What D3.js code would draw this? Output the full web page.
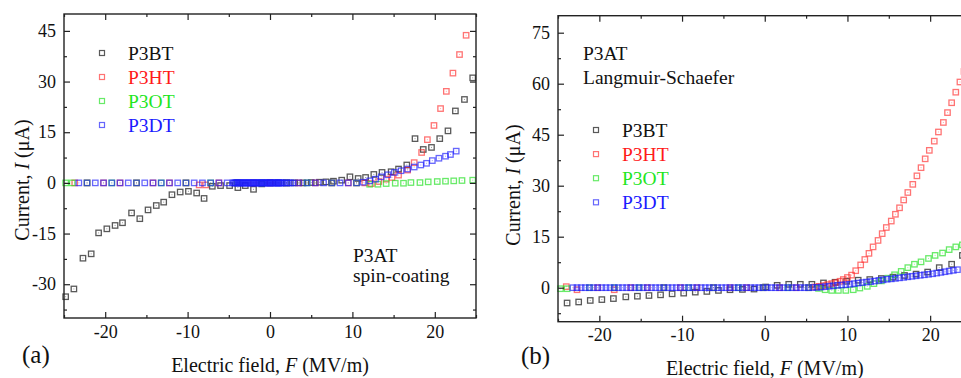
<!DOCTYPE html>
<html>
<head>
<meta charset="utf-8">
<script src="https://cdn.jsdelivr.net/npm/d3@7"></script>
<style>
  body { margin: 0; background: #fff; }
  svg { display: block; }
</style>
</head>
<body>
<svg id="chart"></svg>
<script>
// ---- data: F (MV/m) and I (uA) ----
const xMajor = [-20, -10, 0, 10, 20];
const xMinor = [-25, -15, -5, 5, 15, 25];
const ySpinMajor = [-30, -15, 0, 15, 30, 45];
const ySpinMinor = [-37.5, -22.5, -7.5, 7.5, 22.5, 37.5];
const yLsMajor = [0, 15, 30, 45, 60, 75];
const yLsMinor = [-7.5, 7.5, 22.5, 37.5, 52.5, 67.5];
const seriesNames = ['P3BT', 'P3HT', 'P3OT', 'P3DT'];

// (a) spin-coating
const spin_F_P3BT = [-24.8, -23.8, -22.7, -21.7, -20.8, -19.8, -18.8, -17.9, -16.8, -15.8, -14.8, -13.8, -12.9, -11.9,
  -10.9, -9.9, -8.9, -8.0, -7.0, -6.0, -4.9, -3.9, -3.0, -2.0, -1.0, 0.0, 1.0, 2.0, 3.0, 4.0, 5.0, 6.0, 6.8, 7.7, 8.7,
  9.7, 10.7, 11.6, 12.6, 13.6, 14.7, 15.6, 16.6, 17.6, 18.6, 19.6, 20.6, 21.6, 22.5, 23.6, 24.6];
const spin_I_P3BT = [-33.7, -31.4, -22.3, -21.0, -14.8, -13.6, -12.6, -11.8, -8.9, -10.6, -8.0, -6.7, -5.7, -3.5,
  -2.7, -2.5, -3.0, -4.6, -1.0, -0.8, -0.8, -1.4, -0.8, -1.9, -0.3, 0.0, 0.0, 0.0, 0.0, 0.0, 0.1, 0.2, 0.3, 0.5, 0.8,
  1.8, 1.3, 1.6, 2.5, 3.1, 3.3, 4.1, 5.3, 13.1, 9.9, 10.5, 13.1, 15.4, 21.3, 24.7, 31.1];

const spin_F_P3HT = [-23.7, -22.2, -20.2, -18.2, -16.2, -14.2, -12.2, -10.2, -8.6, -7.8, -6.2, -4.0, -2.0, 0.0, 2.0,
  3.5, 5.5, 7.5, 9.5, 10.5, 11.5, 12.3, 13.2, 14.1, 14.8, 15.6, 16.7, 17.5, 18.4, 19.1, 19.9, 20.7, 21.4, 22.2, 23.0, 23.8];
const spin_I_P3HT = [0, 0, 0, 0, 0, 0, 0, 0, -0.6, -0.6, 0, 0, 0, 0, 0,
  0, 0, 0, 0, 0, 0, -0.2, 0.4, 1.1, 1.6, 2.3, 3.8, 6.0, 9.0, 12.8, 17.0, 22.0, 27.1, 32.5, 38.0, 43.7];

const spin_F_P3OT = [-24.8, -24.0, -22.2, -19.2, -16.2, -13.2, -10.2, -7.2, -4.0, -1.0, 2.0, 4.5, 7.5, 10.5,
  12.1, 13.1, 14.1, 15.2, 16.2, 17.1, 18.2, 19.2, 20.3, 21.3, 22.3, 23.3, 24.6];
const spin_I_P3OT = [0, 0, 0, 0, 0, 0, 0, 0, 0, 0, 0, 0, 0, 0,
  -0.4, -0.4, -0.2, -0.1, -0.1, 0.1, 0.1, 0.3, 0.4, 0.5, 0.6, 0.7, 0.8];

// the low-field part of P3DT was measured densely (solid blue band)
const spin_F_P3DT = [-23.2, -22.2, -21.2, -20.2, -19.2, -18.2, -17.2, -16.2, -15.2, -14.2, -13.2, -12.2, -11.2, -10.2,
  -9.2, -8.2, -7.2, -6.2, -5.2,
  -4.5, -4.375, -4.25, -4.125, -4.0, -3.875, -3.75, -3.625, -3.5, -3.375, -3.25, -3.125, -3.0, -2.875, -2.75, -2.625,
  -2.5, -2.375, -2.25, -2.125, -2.0, -1.875, -1.75, -1.625, -1.5, -1.375, -1.25, -1.125, -1.0, -0.875, -0.75, -0.625,
  -0.5, -0.375, -0.25, -0.125, 0.0, 0.125, 0.25, 0.375, 0.5, 0.625, 0.75, 0.875, 1.0, 1.125, 1.25, 1.375, 1.5,
  1.75, 2.0, 2.25, 2.5, 2.75,
  3.5, 4.5, 5.5, 6.5, 7.5, 8.5, 9.5, 10.5,
  11.3, 12.1, 12.8, 13.5, 14.3, 15.1, 15.9, 16.7, 17.5, 18.3, 19.0, 19.7, 20.5, 21.3, 21.9, 22.6];
const spin_I_P3DT = [0, 0, 0, 0, 0, 0, 0, 0, 0, 0, 0, 0, 0, 0,
  0, 0, 0, 0, 0,
  0, 0, 0, 0, 0, 0, 0, 0, 0, 0, 0, 0, 0, 0, 0, 0,
  0, 0, 0, 0, 0, 0, 0, 0, 0, 0, 0, 0, 0, 0, 0, 0,
  0, 0, 0, 0, 0, 0, 0, 0, 0, 0, 0, 0, 0, 0, 0, 0, 0,
  0, 0, 0, 0, 0,
  0, 0, 0, 0, 0, 0, 0, 0,
  0.2, 0.6, 1.1, 1.8, 2.4, 3.1, 3.6, 4.1, 4.7, 5.3, 5.8, 6.6, 7.3, 7.9, 8.4, 9.4];

// (b) Langmuir-Schaefer
const ls_F_P3BT = [-23.9, -22.5, -21.1, -19.7, -18.3, -16.8, -15.4, -14.0, -12.6, -11.2, -9.8, -8.4, -7.0, -5.6, -4.2,
  -2.7, -1.3, 0.1, 1.5, 2.9, 4.3, 5.7, 7.1, 8.5, 9.9, 11.3, 12.7, 14.1, 15.5, 16.9, 18.3, 19.7, 21.1, 22.6, 23.9];
const ls_I_P3BT = [-4.5, -4.2, -3.75, -3.5, -3.2, -2.7, -2.5, -2.3, -2.1, -1.8, -1.6, -1.3, -1.1, -0.8, -0.6,
  -0.5, -0.4, 0.2, 0.7, 1.0, 1.0, 1.0, 1.4, 1.6, 1.9, 2.2, 2.4, 2.7, 3.1, 3.6, 4.0, 4.6, 5.9, 6.9, 9.5];

const ls_F_P3HT = [-24.0, -22.7, -20.2, -18.2, -16.2, -14.2, -12.2, -10.2, -8.2, -6.2, -4.2, -2.2, -0.2, 1.8, 3.8, 5.3,
  6.1, 6.6, 7.1, 7.6, 8.1, 8.6, 9.1, 9.5, 10.0, 10.5, 11.0, 11.6, 12.1, 12.6, 13.1, 13.7, 14.2, 14.7, 15.3, 15.8, 16.3,
  16.8, 17.3, 17.9, 18.4, 18.9, 19.4, 19.9, 20.5, 21.0, 21.6, 22.1, 22.6, 23.1, 23.6, 24.1];
const ls_I_P3HT = [0.3, -0.6, 0, -0.6, 0, 0, 0, 0, 0, 0, 0, 0, 0, 0, 0, 0,
  0.2, 0.4, 0.6, 0.9, 1.2, 1.5, 1.9, 2.4, 3.0, 3.7, 5.0, 6.7, 8.3, 10.1, 12.0, 13.9, 15.9, 17.7, 19.6, 21.6, 23.5,
  25.8, 28.0, 30.4, 32.9, 35.3, 37.9, 40.4, 43.1, 45.8, 48.6, 51.5, 54.4, 57.5, 60.5, 63.6];

const ls_F_P3OT = [-24.7, -23.9, -21.2, -18.2, -15.2, -12.2, -9.2, -6.2, -3.2, -0.2, 2.8, 5.3,
  6.5, 7.3, 8.1, 8.9, 9.8, 10.7, 11.5, 12.4, 13.2, 14.1, 14.9, 15.7, 16.5, 17.3, 18.1, 18.9, 19.8, 20.6, 21.5, 22.3, 23.1, 23.9];
const ls_I_P3OT = [-0.3, -0.3, 0, 0, 0, 0, 0, 0, 0, 0, 0, 0,
  -0.2, -0.6, -0.8, -0.8, -0.8, -0.6, -0.1, 0.4, 1.2, 2.0, 2.8, 3.8, 4.8, 5.9, 6.9, 7.6, 8.6, 9.5, 10.2, 11.2, 12.0, 12.6];

const ls_F_P3DT = [-23.2, -22.7, -22.2, -21.7, -21.2, -20.7, -20.2, -19.7, -19.2, -18.7,
  -18.2, -17.7, -17.2, -16.7, -16.2, -15.7, -15.2, -14.7, -14.2, -13.7,
  -13.2, -12.7, -12.2, -11.7, -11.2, -10.7, -10.2, -9.7, -9.2, -8.7,
  -8.2, -7.7, -7.2, -6.7, -6.2, -5.7, -5.2, -4.7, -4.2, -3.7,
  -3.2, -2.7, -2.2, -1.7, -1.2, -0.7, -0.2, 0.3, 0.8, 1.3,
  1.8, 2.3, 2.8, 3.3, 3.8, 4.3, 4.8, 5.3, 5.8, 6.3,
  6.8, 7.3, 7.8, 8.3, 8.8, 9.3, 9.8, 10.3, 10.8, 11.3,
  11.8, 12.3, 12.8, 13.3, 13.8, 14.3, 14.8, 15.3, 15.8, 16.3,
  16.8, 17.3, 17.8, 18.3, 18.8, 19.3, 19.8, 20.3, 20.8, 21.3,
  21.8, 22.3, 22.8, 23.3];
const ls_I_P3DT = [0, 0, 0, 0, 0, 0, 0, 0, 0, 0,
  0, 0, 0, 0, 0, 0, 0, 0, 0, 0,
  0, 0, 0, 0, 0, 0, 0, 0, 0, 0,
  0, 0, 0, 0, 0, 0, 0, 0, 0, 0,
  0, 0, 0, 0, 0, 0, 0, 0, 0, 0,
  0, 0, 0, 0, 0, 0, 0, 0, 0.05, 0.1,
  0.2, 0.3, 0.45, 0.55, 0.7, 0.8, 0.9, 1.0, 1.2, 1.35,
  1.5, 1.65, 1.8, 1.95, 2.15, 2.3, 2.5, 2.6, 2.75, 2.9,
  3.05, 3.2, 3.35, 3.5, 3.65, 3.8, 3.95, 4.1, 4.3, 4.5,
  4.7, 4.9, 5.1, 5.3];

// ---- styles ----
const W = 961, H = 378;
const FONT = '"Liberation Serif", "Times New Roman", serif';
const markerColors = ['rgba(60,60,60,0.85)', 'rgba(255,40,40,0.65)', 'rgba(40,225,40,0.7)', 'rgba(30,30,250,0.68)'];
const textColors = ['#111', '#ff1a1a', '#1ee61e', '#1a1aff'];

const svg = d3.select('#chart').attr('width', W).attr('height', H).attr('viewBox', [0, 0, W, H]);
svg.append('rect').attr('width', W).attr('height', H).attr('fill', '#fff');

const fmt = (d) => String(d).replace('\u2212', '-');

function drawPanel(p) {
  const g = svg.append('g');
  const x_scale = d3.scaleLinear([-25, 25], [p.left, p.right]);
  const y_scale = d3.scaleLinear(p.yDomain, [p.bottom, p.top]);

  // markers
  p.series.forEach(([F, I], si) => {
    const pts = F.map((f, i) => [f, I[i]]);
    const sg = g.append('g');
    sg.selectAll('rect.sq')
      .data(pts)
      .join('rect')
      .attr('class', 'sq')
      .attr('x', (d) => x_scale(d[0]) - 2.7)
      .attr('y', (d) => y_scale(d[1]) - 2.7)
      .attr('width', 5.4)
      .attr('height', 5.4)
      .attr('fill', 'none')
      .attr('stroke', markerColors[si])
      .attr('stroke-width', 1.3);
    sg.selectAll('rect.dot')
      .data(pts)
      .join('rect')
      .attr('class', 'dot')
      .attr('x', (d) => x_scale(d[0]) - 0.5)
      .attr('y', (d) => y_scale(d[1]) - 0.5)
      .attr('width', 1)
      .attr('height', 1)
      .attr('fill', markerColors[si])
      .attr('opacity', 0.6);
  });

  // axes, ticks pointing inward
  const styleAxis = (sel) => {
    sel.select('.domain').remove();
    sel.selectAll('.tick line').attr('stroke', '#222').attr('stroke-width', 1.2);
    sel.selectAll('.tick text').attr('fill', '#111');
    sel.attr('font-family', FONT).attr('font-size', 18);
  };
  const addAxis = (axis, tx, ty) => g.append('g').attr('transform', `translate(${tx},${ty})`).call(axis).call(styleAxis);

  addAxis(d3.axisBottom(x_scale).tickValues(xMajor).tickSize(-6).tickPadding(7).tickFormat(fmt), 0, p.bottom);
  addAxis(d3.axisBottom(x_scale).tickValues(xMinor).tickSize(-3).tickFormat(''), 0, p.bottom);
  addAxis(d3.axisTop(x_scale).tickValues(xMajor).tickSize(-6).tickFormat(''), 0, p.top);
  addAxis(d3.axisTop(x_scale).tickValues(xMinor).tickSize(-3).tickFormat(''), 0, p.top);
  addAxis(d3.axisLeft(y_scale).tickValues(p.yMajor).tickSize(-6).tickPadding(8).tickFormat(fmt), p.left, 0);
  addAxis(d3.axisLeft(y_scale).tickValues(p.yMinor).tickSize(-3).tickFormat(''), p.left, 0);
  addAxis(d3.axisRight(y_scale).tickValues(p.yMajor).tickSize(-6).tickFormat(''), p.right, 0);
  addAxis(d3.axisRight(y_scale).tickValues(p.yMinor).tickSize(-3).tickFormat(''), p.right, 0);

  g.append('rect')
    .attr('x', p.left)
    .attr('y', p.top)
    .attr('width', p.right - p.left)
    .attr('height', p.bottom - p.top)
    .attr('fill', 'none')
    .attr('stroke', '#222')
    .attr('stroke-width', 1.4);

  // legend
  seriesNames.forEach((name, i) => {
    const cy = p.legendY + i * p.legendStep;
    g.append('rect')
      .attr('x', p.legendX - 2.5)
      .attr('y', cy - 2.5)
      .attr('width', 5)
      .attr('height', 5)
      .attr('fill', 'none')
      .attr('stroke', markerColors[i])
      .attr('stroke-width', 1.2);
    g.append('text')
      .attr('x', p.legendX + 26)
      .attr('y', cy + 7)
      .attr('font-family', FONT)
      .attr('font-size', 19.5)
      .attr('fill', textColors[i])
      .text(name);
  });

  // annotation
  p.note.forEach((line, i) => {
    g.append('text')
      .attr('x', p.noteX)
      .attr('y', p.noteY + i * p.noteStep)
      .attr('font-family', FONT)
      .attr('font-size', 19.5)
      .attr('fill', '#111')
      .text(line);
  });

  // panel letter
  g.append('text')
    .attr('x', p.letterX)
    .attr('y', p.letterY)
    .attr('font-family', FONT)
    .attr('font-size', 25)
    .attr('fill', '#111')
    .text(p.letter);

  // axis titles
  const xt = g.append('text')
    .attr('x', x_scale(0))
    .attr('y', p.xTitleY)
    .attr('text-anchor', 'middle')
    .attr('font-family', FONT)
    .attr('font-size', 20)
    .attr('fill', '#111');
  xt.append('tspan').text('Electric field, ');
  xt.append('tspan').attr('font-style', 'italic').text('F');
  xt.append('tspan').text(' (MV/m)');

  const yt = g.append('text')
    .attr('transform', `translate(${p.yTitleX},${p.yTitleY}) rotate(-90)`)
    .attr('text-anchor', 'middle')
    .attr('font-family', FONT)
    .attr('font-size', 20)
    .attr('fill', '#111');
  yt.append('tspan').text('Current, ');
  yt.append('tspan').attr('font-style', 'italic').text('I');
  yt.append('tspan').text(' (\u03bcA)');
}

drawPanel({
  left: 64, right: 476, top: 14, bottom: 318,
  yDomain: [-40, 50], yMajor: ySpinMajor, yMinor: ySpinMinor,
  series: [[spin_F_P3BT, spin_I_P3BT], [spin_F_P3HT, spin_I_P3HT], [spin_F_P3OT, spin_I_P3OT], [spin_F_P3DT, spin_I_P3DT]],
  legendX: 102, legendY: 53, legendStep: 24,
  note: ['P3AT', 'spin-coating'], noteX: 353, noteY: 262, noteStep: 20,
  letter: '(a)', letterX: 22, letterY: 363,
  xTitleY: 372, yTitleX: 29, yTitleY: 180,
});

drawPanel({
  left: 558, right: 971.5, top: 15.7, bottom: 321.7,
  yDomain: [-10, 80], yMajor: yLsMajor, yMinor: yLsMinor,
  series: [[ls_F_P3BT, ls_I_P3BT], [ls_F_P3HT, ls_I_P3HT], [ls_F_P3OT, ls_I_P3OT], [ls_F_P3DT, ls_I_P3DT]],
  legendX: 596, legendY: 130, legendStep: 24.1,
  note: ['P3AT', 'Langmuir-Schaefer'], noteX: 583, noteY: 60, noteStep: 24,
  letter: '(b)', letterX: 521, letterY: 364,
  xTitleY: 375, yTitleX: 520, yTitleY: 185,
});
</script>
</body>
</html>
